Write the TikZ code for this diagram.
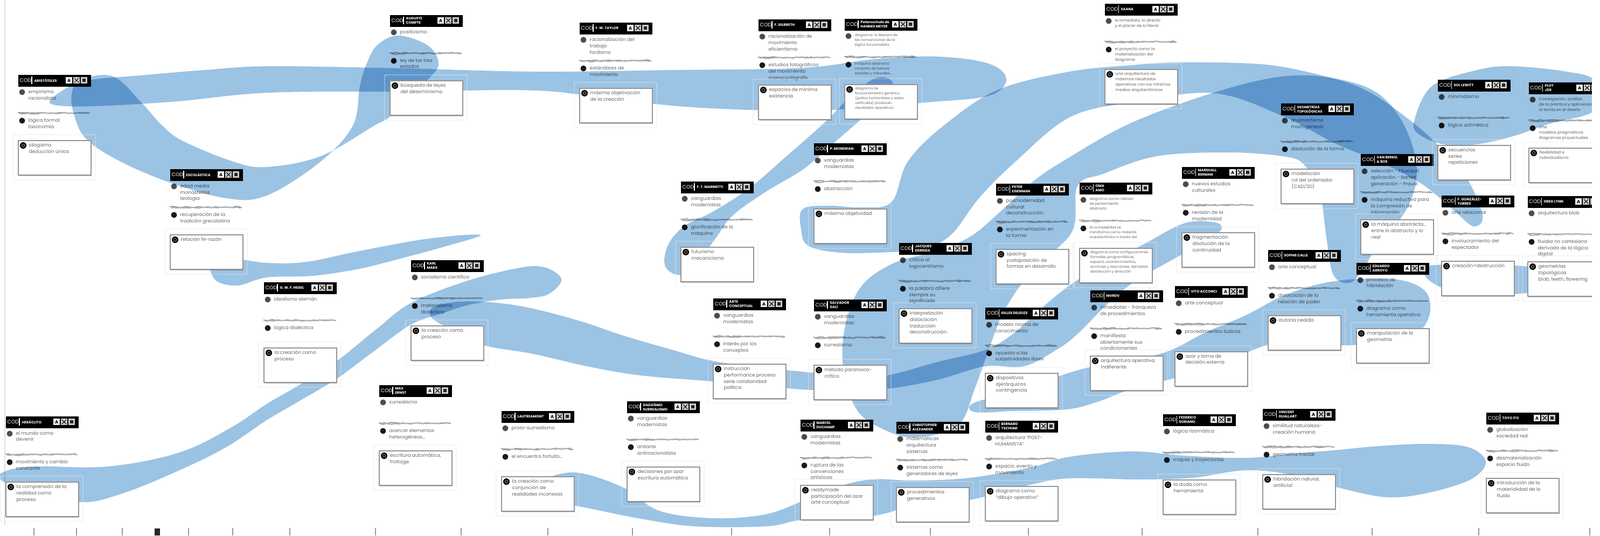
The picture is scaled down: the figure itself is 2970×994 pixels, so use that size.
\documentclass[tikz,border=0pt]{standalone}
\usepackage{fontspec}
\setmainfont{Poppins}
\usetikzlibrary{decorations.pathmorphing, shadows}

\pgfdeclarelayer{front}
\pgfsetlayers{main,front}

\definecolor{ribbonblue}{RGB}{155,195,228}
\definecolor{codgray}{RGB}{100,100,100}

\tikzset{
  ribbon/.style={fill=ribbonblue, blend mode=multiply},
  codhead/.style={fill=black, minimum width=1.35cm, minimum height=0.22cm, inner sep=0pt, anchor=north west},
  codlabel/.style={text=white, inner sep=0pt, anchor=west, font=\fontsize{2.7}{2.7}\selectfont},
  codtitle/.style={text=white, inner sep=0pt, anchor=west, align=left, font=\fontsize{1.85}{2.3}\selectfont\bfseries},
  codtxt/.style={text=codgray, inner sep=0pt, anchor=north west, align=left, font=\fontsize{2.5}{3.35}\selectfont},
  codbox/.style={draw=black!42, line width=0.55pt, fill=white, minimum width=1.35cm, minimum height=0.64cm, inner sep=0pt, anchor=north west, drop shadow={shadow xshift=0.35pt, shadow yshift=-0.45pt, opacity=0.25, fill=black}},
  boxframe/.style={draw=black!9, line width=0.25pt, rounded corners=0.6pt},
  scribble/.style={draw=black!50, line width=0.4pt, decorate, decoration={random steps, segment length=1.6pt, amplitude=0.3pt}},
  axistick/.style={draw=black!40, line width=0.35pt},
  smalltxt/.style={font=\fontsize{2.1}{2.85}\selectfont},
  tinytxt/.style={font=\fontsize{1.85}{2.55}\selectfont}
}

% one author card: [text style]{id}{x}{y}{title}{item 1}{item 2}{box}
\newcommand{\codcard}[8][]{%
  \begin{pgfonlayer}{front}
    \node[codhead] (#2h) at (#3,#4) {};
    \node[codlabel] (#2k) at (#3+3,#4+11.5) {COD};
    \draw[white, line width=0.3pt] (#3+26,#4+4) -- (#3+26,#4+18);
    \node[codtitle] (#2t) at (#3+30,#4+11) {#5};
    \fill[white!94!black] (#3+89,#4+5) rectangle ++(12,12);
    \node[inner sep=0pt, font=\fontsize{2.3}{2.3}\selectfont\bfseries] (#2i) at (#3+95,#4+11.5) {A};
    \fill[white!80!black] (#3+103,#4+5) rectangle ++(12,12);
    \draw[black, line width=0.3pt] (#3+105,#4+7) -- ++(8,8) (#3+113,#4+7) -- ++(-8,8);
    \fill[white!80!black] (#3+117,#4+5) rectangle ++(12,12);
    \fill[black!85] (#3+120,#4+8) rectangle ++(6,6);
    \draw[boxframe] (#3-9,#4+112) rectangle (#3+144,#4+196);
    \node[codbox] (#2c) at (#3,#4+122) {};
    \fill[black] (#3+10,#4+132) circle[radius=0.06cm];
    \draw[white!70!black, line width=0.2pt] (#3+10,#4+132) circle[radius=0.028cm];
    \node[codtxt,#1] (#2d) at (#3+20,#4+127) {#8};
  \end{pgfonlayer}
  \fill[black!70] (#3+8,#4+33) circle[radius=0.055cm];
  \node[codtxt,#1] (#2a) at (#3+19,#4+28) {#6};
  \draw[scribble] (#3,#4+71) -- (#3+134,#4+72);
  \draw[scribble, black!30, line width=0.7pt] (#3+3,#4+73) -- (#3+131,#4+71);
  \fill[black!90] (#3+8,#4+86) circle[radius=0.055cm];
  \node[codtxt,#1] (#2b) at (#3+19,#4+81) {#7};
}

\begin{document}
\begin{tikzpicture}[x=0.01cm, y=-0.01cm]
\useasboundingbox (0,0) rectangle (2970,994);
\fill[white] (0,0) rectangle (2970,994);
\draw[black!12, line width=0.3pt] (9,0) -- (9,975);

% antiguedad y modernidad
\codcard{aristoteles}{33}{138}{ARISTÓTELES}{empirismo\\racionalista}{lógica formal\\taxonomía}{silogismo\\deducción única}
\codcard{escolastica}{315}{313}{ESCOLÁSTICA}{edad media\\monasterios\\teología}{recuperación de la\\tradición grecolatina}{relación fe-razón}
\codcard{heraclito}{10}{772}{HERÁCLITO}{el mundo como\\devenir}{movimiento y cambio\\constante}{la comprensión de la\\realidad como\\proceso}
\codcard{hegel}{489}{523}{G. W. F. HEGEL}{idealismo alemán}{lógica dialéctica}{la creación como\\proceso}
\codcard{compte}{723}{27}{AUGUSTE\\COMPTE}{positivismo}{ley de los tres\\estados}{búsqueda de leyes\\del determinismo}
\codcard{marx}{762}{482}{KARL\\MARX}{socialismo científico}{materialismo\\dialéctico}{la creación como\\proceso}
\codcard{ernst}{703}{714}{MAX\\ERNST}{surrealismo}{acercar elementos\\heterogéneos...}{escritura automática,\\frottage}
\codcard{taylor}{1075}{41}{F. W. TAYLOR}{racionalización del\\trabajo\\fordismo}{estándares de\\movimiento}{máxima objetivación\\de la creación}
\codcard{lautreamont}{930}{762}{LAUTREAMONT}{proto-surrealismo}{el encuentro fortuito...}{la creación como\\conjunción de\\realidades inconexas}
\codcard{marinetti}{1263}{336}{F. T. MARINETTI}{vanguardias\\modernistas}{glorificación de la\\máquina}{futurismo\\mecanicismo}
\codcard{gilbreth}{1407}{35}{F. GILBRETH}{racionalización de\\movimiento\\eficientismo}{estudios fotográficos\\del movimiento\\cronocyclógrafo}{espacios de mínima\\existencia}
\codcard[tinytxt]{meyer}{1567}{34}{Petersschule de\\HANNES MEYER}{diagrama: lo liberara de\\las convenciones de la\\lógica funcionalista}{máquina abstracta:\\conjunto de fuerzas\\sociales y naturales...}{diagrama de\\funcionamiento genérico\\(patios horizontales y aulas\\verticales) producen\\resultados operativos}
\codcard{dada}{1163}{744}{DADAÍSMO\\SURREALISMO}{vanguardias\\modernistas}{antiarte\\antirracionalista}{decisiones por azar\\escritura automática}
\codcard{arteconc}{1323}{553}{ARTE\\CONCEPTUAL}{vanguardias\\modernistas}{interés por los\\conceptos}{instrucción\\performance proceso\\serie cotidianidad\\política}
\codcard{mondrian}{1510}{265}{P. MONDRIAN}{vanguardias\\modernistas}{abstracción}{máxima objetividad}
\codcard{dali}{1510}{555}{SALVADOR\\DALÍ}{vanguardias\\modernistas}{surrealismo}{método paranoico-\\crítico}
\codcard{duchamp}{1485}{778}{MARCEL\\DUCHAMP}{vanguardias\\modernistas}{ruptura de las\\convenciones\\artísticas}{readymade\\participación del azar\\arte conceptual}
\codcard{derrida}{1668}{450}{JACQUES\\DERRIDA}{crítica al\\logocentrismo}{la palabra difiere\\siempre su\\significado}{interpretación\\dislocación\\traducción\\deconstrucción}
\codcard{alexander}{1663}{782}{CHRISTOPHER\\ALEXANDER}{matemáticas\\arquitectura\\sistemas}{sistemas como\\generadores de leyes}{procedimientos\\generativos}
\codcard{eisenman}{1848}{340}{PETER\\EISENMAN}{posmodernidad\\cultural\\deconstrucción}{experimentación en\\la forma}{spacing\\yuxtaposición de\\formas en desarrollo}
\codcard{deleuze}{1828}{570}{GILLES DELEUZE}{modelo rizoma de\\conocimiento}{apuesta a las\\subjetividades libres}{dispositivos\\ajerárquicos\\contingencia}
\codcard{tschumi}{1828}{780}{BERNARD\\TSCHUMI}{arquitectura “POST-\\HUMANISTA”}{espacio, evento y\\movimiento}{diagrama como\\“dibujo operativo”}
% contemporaneos
\codcard[smalltxt]{saana}{2050}{6}{SAANA}{lo inmediato, lo directo\\y el placer de lo literal}{el proyecto como la\\materialización del\\diagrama}{una arquitectura de\\máximos resultados\\operativos con los mínimos\\medios arquitectónicos}
\codcard[tinytxt]{oma}{2003}{338}{OMA\\AMO}{diagrama como método\\de pensamiento\\abstracto}{la complejidad se\\transforma como material\\arquitectónico a través del}{diagrama como configuraciones\\formales, programáticas,\\espacio, acontecimientos,\\acciones y reacciones, densidad\\distribución y dirección}
\codcard{mvrdv}{2023}{538}{MVRDV}{inmediatez - franqueza\\de procedimientos}{manifiesta\\abiertamente sus\\condicionantes}{arquitectura operativa\\indiferente}
\codcard{berman}{2193}{309}{MARSHALL\\BERMAN}{nuevos estudios\\culturales}{revisión de la\\modernidad}{fragmentación\\disolución de la\\continuidad}
\codcard{acconci}{2180}{530}{VITO ACCONCI}{arte conceptual}{procedimientos lúdicos}{azar y toma de\\decisión externa}
\codcard{soriano}{2158}{768}{FEDERICO\\SORIANO}{lógica rizomática}{mapas y trayectorias}{la duda como\\herramienta}
\codcard{geometrias}{2377}{191}{GEOMETRÍAS\\TOPOLÓGICAS}{anamorfismo\\morfogénesis}{disolución de la forma}{modelación\\rol del ordenador\\(CAD/3D)}
\codcard{calle}{2353}{463}{SOPHIE CALLE}{arte conceptual}{dislocación de la\\relación de poder}{autoría cedida}
\codcard{guallart}{2343}{758}{VINCENT\\GUALLART}{similitud naturaleza-\\creación humana}{geometría fractal}{hibridación natural,\\artificial}
\codcard{vanberkel}{2525}{285}{VAN BERKEL\\\& BOS}{selección - Foucault\\aplicación - Bartes\\generación - Proust}{máquina reductiva para\\la compresión de\\información}{la máquina abstracta...\\entre lo abstracto y lo\\real}
\codcard{arroyo}{2517}{487}{EDUARDO\\ARROYO}{procesos de\\hibridación}{diagrama como\\herramienta operativa}{manipulación de la\\geometría}
\codcard{lewitt}{2668}{147}{SOL LEWITT}{minimalismo}{lógica aritmética}{secuencias\\series\\repeticiones}
\codcard{gonzalez}{2675}{362}{F. GONZÁLEZ-\\TORRES}{arte relacional}{involucramiento del\\espectador}{creación=destrucción}
\codcard[smalltxt]{plot}{2837}{152}{PLOT\\JDS}{investigación, análisis\\de la práctica y aplicación\\la teoría en el diseño}{arte\\modelos pragmáticos\\diagramas proyectuales}{flexibilidad e\\individualismo}
\codcard{lynn}{2835}{363}{GREG LYNN}{arquitectura blob}{fluidez no cartesiana\\derivada de la lógica\\digital}{geometrías\\topológicas\\blob, teeth, flowering}
\codcard{ito}{2758}{765}{TOYO ITO}{globalización\\sociedad red}{desmaterialización\\espacio fluido}{introducción de la\\materialidad de lo\\fluido}

% ribbons
\fill[ribbon] plot[smooth cycle, tension=0.6] coordinates {(92,188) (130,160) (170,148) (260,140) (380,130) (500,123) (750,127) (995,133) (1250,130) (1490,126) (1620,110) (1740,105) (1835,118) (1868,147) (1835,178) (1720,190) (1600,200) (1490,206) (1300,200) (1150,186) (995,168) (750,170) (500,172) (330,188) (200,196) (120,197)};
\fill[ribbon] plot[smooth cycle, tension=0.6] coordinates {(150,148) (210,142) (262,190) (300,232) (340,262) (433,300) (495,310) (595,290) (695,233) (728,213) (795,147) (814,118) (795,85) (740,66) (700,84) (680,120) (668,160) (655,233) (595,300) (495,363) (420,368) (313,338) (220,298) (160,258) (138,215) (133,175)};
\fill[ribbon] plot[smooth cycle, tension=0.6] coordinates {(398,478) (495,488) (570,486) (662,467) (795,443) (892,436) (828,457) (728,484) (662,500) (580,512) (495,515) (440,530) (398,518)};
\fill[ribbon] plot[smooth cycle, tension=0.6] coordinates {(3,878) (60,866) (200,866) (333,840) (430,793) (495,750) (560,712) (628,668) (700,610) (762,563) (862,523) (960,498) (1010,496) (1042,518) (1020,545) (985,553) (930,556) (870,566) (820,582) (762,603) (690,655) (625,703) (560,742) (495,780) (420,830) (333,873) (230,915) (150,932) (60,905) (8,895)};
\fill[ribbon] plot[smooth cycle, tension=0.6] coordinates {(805,570) (850,560) (920,562) (990,573) (1080,597) (1157,623) (1250,650) (1323,670) (1420,683) (1490,690) (1570,698) (1645,697) (1740,672) (1828,650) (1880,620) (1930,575) (1985,530) (2050,490) (2120,455) (2197,415) (2250,412) (2268,422) (2250,440) (2180,480) (2110,520) (2060,560) (2000,620) (1960,650) (1900,680) (1828,680) (1740,705) (1645,722) (1560,726) (1490,723) (1400,716) (1323,708) (1190,697) (1090,680) (990,657) (895,640) (830,608) (800,588)};
\fill[ribbon] plot[smooth cycle, tension=0.6] coordinates {(1808,748) (1900,722) (1985,692) (2060,673) (2160,655) (2240,616) (2313,585) (2380,550) (2450,527) (2520,518) (2600,520) (2645,540) (2655,575) (2640,610) (2600,630) (2520,640) (2470,640) (2400,630) (2353,640) (2313,655) (2250,682) (2180,702) (2100,722) (2040,745) (1980,760) (1880,763) (1810,765)};
\fill[ribbon] plot[smooth cycle, tension=0.6] coordinates {(1490,388) (1487,425) (1500,456) (1560,469) (1652,468) (1718,462) (1768,433) (1818,367) (1885,300) (1985,218) (2100,190) (2253,173) (2380,215) (2480,267) (2560,300) (2640,342) (2700,392) (2735,420) (2752,400) (2722,330) (2662,262) (2600,210) (2540,170) (2480,147) (2380,124) (2300,117) (2180,116) (2100,121) (1985,133) (1852,167) (1752,233) (1685,300) (1655,375) (1600,385) (1540,382)};
\fill[ribbon] plot[smooth cycle, tension=0.6] coordinates {(1700,812) (1640,797) (1590,760) (1565,680) (1570,600) (1600,530) (1660,488) (1730,468) (1800,440) (1860,390) (1920,335) (1985,292) (2100,228) (2253,172) (2380,142) (2480,146) (2560,175) (2610,240) (2630,320) (2610,390) (2560,450) (2530,500) (2505,525) (2475,510) (2462,440) (2450,360) (2420,305) (2380,290) (2280,283) (2147,290) (2047,323) (2000,345) (1990,430) (1918,500) (1865,575) (1835,650) (1810,720) (1778,790)};
\fill[ribbon] plot[smooth cycle, tension=0.6] coordinates {(1235,495) (1240,455) (1270,420) (1323,393) (1390,350) (1460,290) (1530,228) (1580,178) (1625,145) (1655,150) (1650,175) (1600,220) (1540,272) (1490,315) (1423,355) (1360,400) (1330,440) (1300,480) (1265,510)};
\fill[ribbon] plot[smooth cycle, tension=0.6] coordinates {(1000,895) (1067,877) (1157,905) (1223,948) (1323,962) (1420,955) (1490,930) (1550,905) (1618,890) (1700,892) (1800,887) (1912,868) (1985,848) (2100,838) (2200,846) (2313,850) (2400,842) (2475,836) (2560,828) (2650,824) (2725,830) (2758,857) (2730,890) (2650,915) (2575,923) (2492,907) (2400,882) (2313,873) (2213,887) (2113,890) (1985,888) (1912,900) (1800,928) (1700,938) (1618,958) (1490,965) (1423,977) (1290,977) (1190,963) (1100,945) (1040,932) (1000,915)};
\fill[ribbon] plot[smooth cycle, tension=0.6] coordinates {(2625,225) (2658,160) (2742,130) (2808,123) (2908,133) (2960,150) (2960,205) (2875,230) (2808,253) (2740,268) (2680,268) (2635,250)};
\fill[ribbon] plot[smooth cycle, tension=0.6] coordinates {(2648,495) (2720,492) (2850,498) (2855,540) (2720,545) (2655,522)};

% time axis
\foreach \tx in {63,142,227,350,432,538,697,856,1017,1174,1358,1540,1727,1909,2120,2335,2547,2745,2951}
  \draw[axistick] (\tx,980) -- (\tx,994);
\fill[black!85] (287,981) rectangle (297,994);

\begin{pgfonlayer}{front}
  \fill[white] (2955,0) rectangle (2970,975);
\end{pgfonlayer}
\end{tikzpicture}
\end{document}
